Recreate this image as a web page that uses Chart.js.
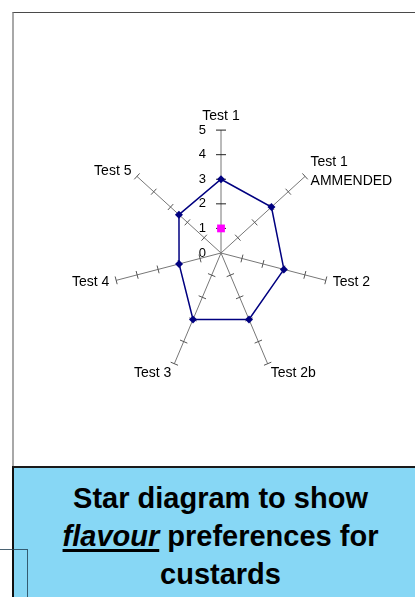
<!DOCTYPE html>
<html>
<head>
<meta charset="utf-8">
<script src="https://cdn.jsdelivr.net/npm/chart.js@4.4.1/dist/chart.umd.min.js"></script>
<style>
  body { margin: 0; width: 415px; height: 597px; overflow: hidden; background: #fff; position: relative;
         font-family: "Liberation Sans", Arial, sans-serif; }
  #frame { position: absolute; left: 12px; top: 12px; width: 410px; height: 460px;
           border-top: 1px solid #4a4a4a; border-left: 2px solid #a8a8a8; box-sizing: border-box; }
  #chartBox { position: absolute; left: 14px; top: 13px; width: 401px; height: 453px; }
  #titleBox { position: absolute; left: 12px; top: 466px; width: 415px; height: 140px; box-sizing: border-box;
              background: #87d7f5; border-top: 2px solid #1a1a1a; border-left: 2px solid #111;
              text-align: center; font-weight: bold; font-size: 29px; line-height: 38px; padding-top: 11px; color: #000; }
  #titleBox em { text-decoration: underline; text-decoration-thickness: 3px; text-underline-offset: 3px; }
  #strayLine { position: absolute; left: 0; top: 549px; width: 27px; height: 60px;
               border-top: 1px solid rgba(30, 60, 80, 0.8); border-right: 1px solid rgba(30, 60, 80, 0.8); }
</style>
</head>
<body>
<div id="frame"></div>
<div id="chartBox"><canvas id="starChart"></canvas></div>
<div id="titleBox">Star diagram to show<br><em>flavour</em> preferences for<br>custards</div>
<div id="strayLine"></div>

<script>
// chart data
const categories = ['Test 1', ['Test 1', 'AMMENDED'], 'Test 2', 'Test 2b', 'Test 3', 'Test 4', 'Test 5'];
const flavourScores = [3, 3, 3, 3, 3, 2, 2.5];
const markerScores = [1, null, null, null, null, null, null];
const scaleMin = 0;
const scaleMax = 5;

// the picture is a bit narrower than it is tall, so squeeze the spokes sideways
const SQUASH = 0.875;
class SquashedRadialScale extends Chart.RadialLinearScale {
  getPointPosition(index, distance, additionalAngle = 0) {
    const p = super.getPointPosition(index, distance, additionalAngle);
    p.x = this.xCenter + (p.x - this.xCenter) * SQUASH;
    return p;
  }
  fit() {
    super.fit();
    // side labels sit centred on the spoke end, like the original (Excel style)
    (this._pointLabelItems || []).forEach((item, i) => {
      const deg = this.getIndexAngle(i) * 180 / Math.PI;
      const h = item.bottom - item.top;
      let shift = 0;
      if (deg <= 20 || deg >= 340) shift = h * 0.2;
      else if (deg > 20 && deg < 90) shift = h / 2;
      else if (deg > 90 && deg < 140) shift = -h / 2;
      else if (deg >= 140 && deg <= 220) shift = -h * 0.37;
      else if (deg > 220 && deg < 270) shift = -h / 2;
      else if (deg > 270 && deg < 340) shift = h / 2;
      item.y += shift;
      item.top += shift;
      item.bottom += shift;
    });
  }
}
SquashedRadialScale.id = 'squashedRadial';
SquashedRadialScale.defaults = Chart.RadialLinearScale.defaults;
Chart.register(SquashedRadialScale);

// small cross ticks on every spoke + the number labels left of the first spoke
const spokeTicks = {
  id: 'spokeTicks',
  beforeDatasetsDraw(chart) {
    const s = chart.scales.r;
    const ctx = chart.ctx;
    ctx.save();
    ctx.lineWidth = 1;
    s.ticks.forEach(t => {
      if (t.value === scaleMin) return;
      categories.forEach((c, i) => {
        const p = s.getPointPositionForValue(i, t.value);
        const dx = p.x - s.xCenter, dy = p.y - s.yCenter;
        const len = Math.hypot(dx, dy);
        const half = i === 0 ? 5 : 4;
        const nx = -dy / len * half, ny = dx / len * half;
        ctx.strokeStyle = i === 0 ? '#222' : '#555';
        ctx.beginPath();
        ctx.moveTo(p.x - nx, p.y - ny);
        ctx.lineTo(p.x + nx, p.y + ny);
        ctx.stroke();
      });
    });
    ctx.font = '13px "Liberation Sans", Arial, sans-serif';
    ctx.fillStyle = '#000';
    ctx.textAlign = 'right';
    ctx.textBaseline = 'middle';
    s.ticks.forEach(t => {
      const p = s.getPointPositionForValue(0, t.value);
      ctx.fillText(t.label, p.x - 15, p.y);
    });
    ctx.restore();
  }
};

const ctx = document.getElementById('starChart').getContext('2d');
new Chart(ctx, {
  type: 'radar',
  data: {
    labels: categories,
    datasets: [
      {
        label: 'Flavour',
        data: flavourScores,
        borderColor: '#000080',
        backgroundColor: '#000080',
        borderWidth: 1.5,
        fill: false,
        tension: 0,
        pointStyle: 'rectRot',
        pointRadius: 4,
        pointBorderWidth: 0,
        pointBackgroundColor: '#000080'
      },
      {
        label: 'Marker',
        data: markerScores,
        showLine: false,
        borderWidth: 0,
        borderColor: '#ff00ff',
        pointStyle: 'rect',
        pointRadius: 5.5,
        pointBorderWidth: 0,
        pointBackgroundColor: '#ff00ff'
      }
    ]
  },
  options: {
    responsive: true,
    maintainAspectRatio: false,
    animation: false,
    layout: { padding: { top: 36, bottom: 8, left: 53, right: 15 } },
    scales: {
      r: {
        type: 'squashedRadial',
        min: scaleMin,
        max: scaleMax,
        ticks: { display: false, stepSize: 1 },
        grid: { display: false },
        angleLines: { display: true, color: '#777', lineWidth: 1 },
        pointLabels: {
          display: true,
          color: '#000',
          padding: 8,
          font: { family: '"Liberation Sans", Arial, sans-serif', size: 14, lineHeight: 1.35 }
        }
      }
    },
    plugins: {
      legend: { display: false },
      tooltip: { enabled: false }
    }
  },
  plugins: [spokeTicks]
});
</script>
</body>
</html>
